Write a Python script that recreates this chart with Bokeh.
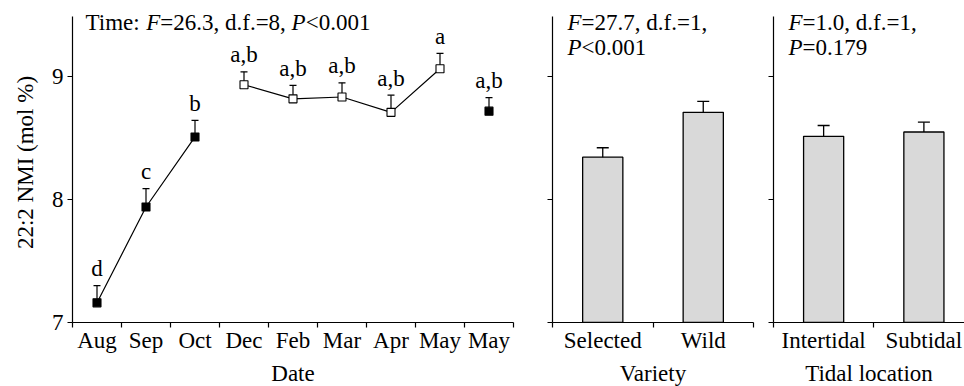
from bokeh.plotting import figure
from bokeh.layouts import row
from bokeh.models import (Range1d, FixedTicker, Whisker, TeeHead, ColumnDataSource,
                          Label, Title, CustomJSTickFormatter)
from bokeh.core.properties import value
from bokeh.embed import file_html
from bokeh.resources import INLINE

FONT = "Liberation Serif"
FS = "23px"
FS_PX = 23.0

# ---- data -------------------------------------------------------------
dates = ["Aug", "Sep", "Oct", "Dec", "Feb", "Mar", "Apr", "May", "May"]
date_mean = [7.16, 7.94, 8.51, 8.935, 8.82, 8.835, 8.71, 9.065, 8.72]
date_se = [0.14, 0.15, 0.135, 0.105, 0.11, 0.115, 0.14, 0.125, 0.11]
date_letters = ["d", "c", "b", "a,b", "a,b", "a,b", "a,b", "a", "a,b"]
date_filled = [True, True, True, False, False, False, False, False, True]
date_runs = [[0, 1, 2], [3, 4, 5, 6, 7]]

varieties = ["Selected", "Wild"]
variety_mean = [8.345, 8.71]
variety_se = [0.077, 0.09]

tidal = ["Intertidal", "Subtidal"]
tidal_mean = [8.515, 8.55]
tidal_se = [0.088, 0.08]

Y_MIN, Y_AXIS_TOP = 7.0, 9.49
Y_VIEW_TOP = 9.604   # a little headroom above the axis for the statistics text

# Advance widths (per 1000 em) of the Times-compatible face, for placing
# mixed upright/italic runs side by side.
ADV = {" ": 250, "T": 611, "i": 278, "m": 778, "e": 444, ":": 278, "=": 564,
       ".": 250, ",": 250, "d": 500, "f": 333, "<": 564, "F": 611, "P": 611}


def text_width(s):
    return sum(ADV.get(ch, 500) for ch in s) * FS_PX / 1000.0


def rich_label(p, parts, x, y, x_off, y_off):
    cur = x_off
    for txt, italic in parts:
        p.add_layout(Label(x=x, y=y, x_offset=cur, y_offset=y_off, text=txt,
                           text_font=FONT, text_font_size=FS,
                           text_font_style="italic" if italic else "normal",
                           text_color="black", text_align="left",
                           text_baseline="alphabetic"))
        cur += text_width(txt)


def make_fig(frame_w, x_end, border_l, border_r, names, centers, bounds, ylabels):
    p = figure(frame_width=frame_w, frame_height=320,
               x_range=Range1d(0, x_end), y_range=Range1d(Y_MIN, Y_VIEW_TOP),
               min_border_left=border_l, min_border_right=border_r,
               min_border_top=2, min_border_bottom=64,
               output_backend="svg", toolbar_location=None)
    p.outline_line_color = None
    p.background_fill_color = "white"
    p.border_fill_color = "white"
    p.xgrid.visible = False
    p.ygrid.visible = False

    xa = p.xaxis[0]
    xa.ticker = FixedTicker(ticks=centers, minor_ticks=bounds)
    xa.major_label_overrides = {c: n for c, n in zip(centers, names)}
    xa.major_tick_line_color = None
    xa.major_tick_out = 0
    xa.major_tick_in = 0
    xa.minor_tick_line_color = "black"
    xa.minor_tick_line_width = 1.2
    xa.minor_tick_out = 5
    xa.minor_tick_in = 0
    xa.major_label_standoff = 0
    xa.axis_label_standoff = 5
    xa.axis_line_width = 1.2
    xa.axis_line_color = "black"

    ya = p.yaxis[0]
    ya.bounds = (Y_MIN, Y_AXIS_TOP)
    ya.ticker = FixedTicker(ticks=[7, 8, 9])
    ya.major_tick_out = 5
    ya.major_tick_in = 0
    ya.major_tick_line_width = 1.2
    ya.minor_tick_line_color = None
    ya.axis_line_width = 1.2
    ya.axis_line_color = "black"
    ya.major_label_standoff = 4
    if not ylabels:
        ya.formatter = CustomJSTickFormatter(code="return ''")

    for ax in (xa, ya):
        ax.major_label_text_font = FONT
        ax.major_label_text_font_size = FS
        ax.major_label_text_color = "black"
        ax.axis_label_text_font = FONT
        ax.axis_label_text_font_size = FS
        ax.axis_label_text_font_style = "normal"
        ax.axis_label_text_color = "black"
    return p


# ---- panel 1: sampling date -------------------------------------------
n = len(dates)
xc = [i + 0.5 for i in range(n)]
p1 = make_fig(441, n, 72, 27, dates, xc, list(range(n + 1)), True)
p1.xaxis[0].axis_label = "Date"

# y-axis title as a side title so it can sit a little below the centre
p1.add_layout(Title(text="22:2 NMI (mol %)", align="center", offset=-19,
                    standoff=21, text_font=FONT, text_font_size=FS,
                    text_font_style="normal", text_color="black"), "left")

for run in date_runs:
    p1.line([xc[i] for i in run], [date_mean[i] for i in run],
            line_color="black", line_width=1.2)

upper1 = [m + s for m, s in zip(date_mean, date_se)]
src1 = ColumnDataSource(dict(x=xc, lower=date_mean, upper=upper1))
p1.add_layout(Whisker(source=src1, base="x", lower="lower", upper="upper",
                      dimension="height", line_color="black", line_width=1.2,
                      upper_head=TeeHead(size=7, line_color="black", line_width=1.2),
                      lower_head=None))
p1.scatter(xc, date_mean, marker="square", size=8, line_color="black",
           line_width=1.1,
           fill_color=["black" if f else "white" for f in date_filled])
p1.text(xc, upper1, text=date_letters, text_align="center",
        text_baseline="alphabetic", y_offset=-17, text_color="black",
        text_font=value(FONT), text_font_size=value(FS))

rich_label(p1, [("Time: ", False), ("F", True), ("=26.3, d.f.=8, ", False),
                ("P", True), ("<0.001", False)], 0, Y_AXIS_TOP, 13, -6)


# ---- panels 2 and 3: bar charts ----------------------------------------
def bar_panel(frame_w, x_end, bl, br, names, means, ses, xlabel, stat1, stat2):
    centers = [i + 0.5 for i in range(len(names))]
    p = make_fig(frame_w, x_end, bl, br, names, centers,
                 list(range(len(names) + 1)), False)
    p.xaxis[0].axis_label = xlabel
    p.vbar(x=centers, top=means, bottom=Y_MIN, width=0.4,
           fill_color="#d9d9d9", line_color="black", line_width=1.3)
    src = ColumnDataSource(dict(x=centers,
                                lower=[m - s for m, s in zip(means, ses)],
                                upper=[m + s for m, s in zip(means, ses)]))
    p.add_layout(Whisker(source=src, base="x", lower="lower", upper="upper",
                         dimension="height", line_color="black", line_width=1.3,
                         upper_head=TeeHead(size=12, line_color="black", line_width=1.3),
                         lower_head=TeeHead(size=12, line_color="black", line_width=1.3)))
    rich_label(p, stat1, 0, Y_AXIS_TOP, 15, -6)
    rich_label(p, stat2, 0, Y_AXIS_TOP, 15, -31)
    return p


p2 = bar_panel(201, 2, 12, 10, varieties, variety_mean, variety_se, "Variety",
               [("F", True), ("=27.7, d.f.=1,", False)],
               [("P", True), ("<0.001", False)])
p3 = bar_panel(191, 1.905, 10, 0, tidal, tidal_mean, tidal_se, "Tidal location",
               [("F", True), ("=1.0, d.f.=1,", False)],
               [("P", True), ("=0.179", False)])

layout = row(p1, p2, p3, spacing=0)
open("out.html", "w").write(file_html(layout, INLINE))
